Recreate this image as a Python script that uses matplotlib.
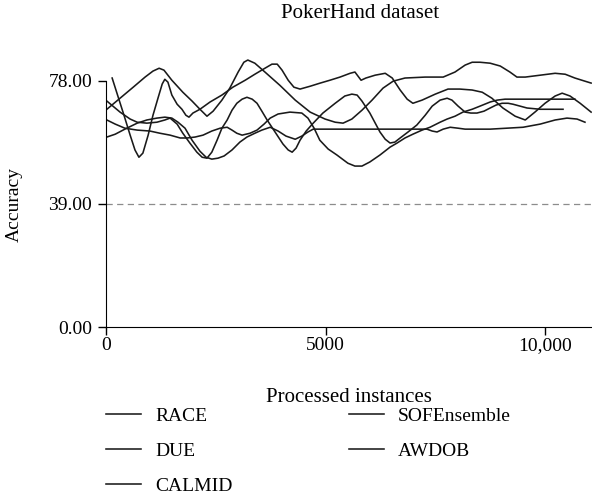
import numpy as np
import matplotlib
matplotlib.use("Agg")
import matplotlib.pyplot as plt

plt.rcParams['font.family'] = ['Liberation Serif', 'DejaVu Serif']

# accuracy curves over processed instances (PokerHand stream)
race_x = [20, 320, 620, 890, 1070, 1210, 1320, 1500, 1750, 1960, 2140, 2300, 2440, 2640, 2820,
          3010, 3140, 3230, 3390, 3620, 3960, 4310, 4650, 4990, 5220, 5400, 5600, 5830, 6060,
          6310, 6540, 6810, 7270, 7680, 7950, 8180, 8340, 8520, 8750, 8980, 9200, 9360, 9550,
          9890, 10230, 10460, 10680, 10910, 11050]
race_y = [69.0, 72.5, 76.0, 79.2, 81.1, 82.0, 81.4, 78.2, 74.4, 71.6, 69.0, 66.8, 68.4, 71.9, 75.7,
          80.8, 83.9, 84.6, 83.6, 80.8, 76.6, 71.9, 68.1, 65.9, 64.9, 64.6, 65.9, 68.7, 71.9,
          75.7, 77.9, 78.9, 79.2, 79.2, 80.8, 83.0, 83.9, 83.9, 83.6, 82.7, 80.8, 79.2, 79.2,
          79.8, 80.4, 80.1, 78.9, 77.9, 77.3]

due_x = [140, 270, 410, 550, 660, 750, 840, 960, 1070, 1190, 1280, 1340, 1410, 1500, 1620, 1730,
         1820, 1890, 1980, 2140, 2370, 2640, 2890, 3170, 3390, 3620, 3780, 3900, 4010, 4150,
         4280, 4420, 4650, 4880, 5100, 5330, 5560, 5670, 5740, 5810, 5920, 6130, 6360, 6520,
         6700, 6860, 6990, 7200, 7500, 7790, 8060, 8340, 8570, 8790, 9040, 9320, 9550, 9770,
         10000, 10230, 10390, 10570, 10800, 11050]
due_y = [78.9, 73.2, 67.1, 60.8, 56.1, 53.8, 55.1, 60.8, 67.1, 72.8, 77.0, 78.5, 77.6, 73.5, 70.6,
         69.0, 67.1, 66.5, 67.8, 69.0, 71.3, 73.5, 76.0, 78.2, 80.1, 82.0, 83.3, 83.3, 81.4, 78.2,
         76.0, 75.4, 76.3, 77.3, 78.2, 79.2, 80.4, 80.8, 79.5, 78.2, 78.9, 79.8, 80.4, 78.9,
         75.1, 72.2, 70.9, 71.9, 73.8, 75.4, 75.4, 75.1, 74.4, 72.5, 69.4, 66.8, 65.6, 68.1,
         70.9, 73.2, 74.1, 73.2, 70.9, 68.1]

calmid_x = [20, 320, 550, 710, 930, 1160, 1340, 1460, 1620, 1750, 1910, 2070, 2190, 2300, 2410,
            2530, 2640, 2760, 2870, 2980, 3100, 3210, 3330, 3440, 3550, 3670, 3850, 4030, 4150,
            4240, 4330, 4420, 4560, 4720, 4940, 5220, 5440, 5600, 5720, 5830, 6010, 6240, 6360,
            6470, 6580, 6700, 6880, 7080, 7270, 7430, 7610, 7770, 7880, 8020, 8180, 8310, 8450,
            8610, 8750, 8880, 9020, 9160, 9270, 9430, 9590, 9890, 10410]
calmid_y = [71.6, 68.1, 65.9, 64.9, 64.6, 64.9, 65.6, 66.2, 64.3, 61.4, 58.3, 55.4, 53.8, 53.5,
            55.4, 59.2, 63.0, 65.6, 68.7, 70.9, 72.2, 72.8, 72.2, 70.9, 68.4, 65.6, 61.8, 58.0,
            56.1, 55.4, 56.7, 59.2, 62.1, 64.6, 67.8, 70.9, 73.2, 73.8, 73.5, 71.6, 67.8, 61.8,
            59.5, 58.3, 58.6, 59.9, 61.8, 64.0, 67.1, 70.0, 71.9, 72.5, 71.9, 70.0, 68.1, 67.8,
            67.8, 68.4, 69.4, 70.3, 70.9, 70.9, 70.6, 70.0, 69.4, 69.0, 69.0]

sofe_x = [20, 210, 430, 710, 1000, 1230, 1460, 1690, 1850, 2030, 2210, 2410, 2600, 2760, 2870,
          2980, 3100, 3280, 3440, 3600, 3740, 3920, 4190, 4460, 4600, 4740, 4870, 5060, 5260,
          5510, 5670, 5830, 6010, 6240, 6470, 6630, 6810, 6990, 7200, 7380, 7610, 7770, 7950,
          8130, 8340, 8520, 8750, 8910, 9090, 9430, 9890, 10340, 10680]
sofe_y = [65.6, 64.3, 63.0, 62.4, 62.1, 61.4, 60.8, 59.9, 59.9, 60.2, 60.8, 62.1, 63.0, 63.3, 62.4,
          61.4, 60.8, 61.4, 62.4, 64.3, 66.2, 67.5, 68.1, 67.8, 66.2, 63.0, 59.2, 56.4, 54.5,
          51.9, 51.0, 51.0, 52.3, 54.5, 57.0, 58.3, 59.9, 61.1, 62.4, 63.3, 64.9, 65.9, 66.8,
          68.1, 69.0, 70.0, 71.3, 71.9, 72.2, 72.2, 72.2, 72.2, 72.2]

awdob_x = [20, 210, 430, 710, 930, 1160, 1340, 1500, 1640, 1800, 1960, 2140, 2280, 2410, 2550,
           2690, 2870, 3050, 3210, 3390, 3550, 3740, 3920, 4100, 4310, 4460, 4600, 4720, 5100,
           5790, 6700, 7310, 7430, 7540, 7680, 7840, 8020, 8180, 8750, 9500, 9890, 10230,
           10500, 10730, 10910]
awdob_y = [60.2, 61.1, 62.7, 64.6, 65.6, 66.2, 66.5, 66.2, 64.9, 63.0, 59.2, 55.7, 53.8, 53.2,
           53.5, 54.2, 56.1, 58.6, 60.2, 61.4, 62.4, 63.3, 62.1, 60.5, 59.5, 60.5, 61.8, 62.7,
           62.7, 62.7, 62.7, 62.7, 62.1, 61.8, 62.7, 63.3, 63.0, 62.7, 62.7, 63.3, 64.3, 65.6,
           66.2, 65.9, 64.9]

series = [("RACE", race_x, race_y),
          ("DUE", due_x, due_y),
          ("CALMID", calmid_x, calmid_y),
          ("SOFEnsemble", sofe_x, sofe_y),
          ("AWDOB", awdob_x, awdob_y)]

y_ticks = [0, 39, 78]
y_ticklabels = ["0.00", "39.00", "78.00"]
x_ticks = [0, 5000, 10000]
x_ticklabels = ["0", "5000", "10,000"]

fig = plt.figure(figsize=(5.92, 5.03), dpi=100)
ax = fig.add_axes([106 / 592, 176 / 503, 486 / 592, 284 / 503])

for name, xs, ys in series:
    ax.plot(xs, ys, color="#1a1a1a", lw=1.15, label=name, solid_joinstyle="round")

ax.axhline(39, color="#8c8c8c", lw=0.9, dashes=(5, 3.5))

ax.set_xlim(0, 11070)
ax.set_ylim(0, 90)
ax.spines["top"].set_visible(False)
ax.spines["right"].set_visible(False)
ax.spines["left"].set_bounds(0, 78)
ax.set_yticks(y_ticks)
ax.set_yticklabels(y_ticklabels)
ax.set_xticks(x_ticks)
ax.set_xticklabels(x_ticklabels)
ax.tick_params(direction="out", length=6, width=1, labelsize=14)
ax.tick_params(axis="y", pad=4)
ax.tick_params(axis="x", pad=1)

ax.set_xlabel("Processed instances", fontsize=15, labelpad=25)
fig.text(14 / 592, 1 - 204 / 503, "Accuracy", rotation=90, ha="center", va="center",
         fontsize=14)
fig.text(360 / 592, 1 - 14 / 503, "PokerHand dataset", ha="center", va="center", fontsize=15)

ax.legend(loc="upper left", bbox_to_anchor=(106 / 592, 1 - 407 / 503),
          bbox_transform=fig.transFigure, ncol=2, frameon=False, fontsize=14,
          handlelength=1.8, handletextpad=0.75, labelspacing=0.9, columnspacing=5.95,
          borderpad=0, borderaxespad=0)

fig.savefig("out.png", dpi=100)
